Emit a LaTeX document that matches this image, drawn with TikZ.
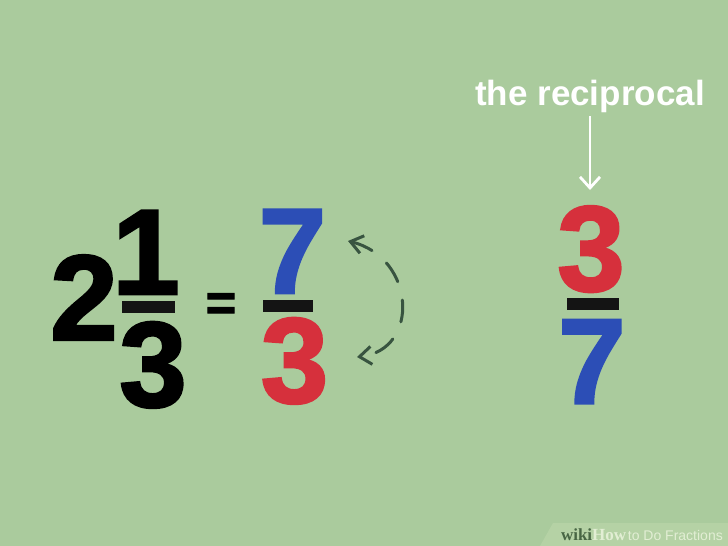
\documentclass[tikz,border=0pt]{standalone}
\usepackage{fontspec}
\setmainfont{Liberation Sans}
\newfontfamily\wikiserif{Liberation Serif}
\newfontfamily\heavydigits{Liberation Sans Bold}[FakeBold=2.2]
\usepackage{xcolor}
\usepackage{tikz}
\usetikzlibrary{arrows.meta,positioning}

\definecolor{bgGreen}{RGB}{170,203,157}
\definecolor{bandGreen}{RGB}{181,210,165}
\definecolor{numBlue}{RGB}{44,78,182}
\definecolor{numRed}{RGB}{214,48,60}
\definecolor{arcGreen}{RGB}{56,84,64}
\definecolor{wikiDark}{RGB}{72,102,68}
\definecolor{howLight}{RGB}{226,238,212}

\begin{document}
\begin{tikzpicture}[x=1pt, y=-1pt,
  digit/.style={inner sep=0pt, outer sep=0pt, font=\heavydigits\fontsize{121}{121}\selectfont},
  fracbar/.style={rectangle, fill=black!92, inner sep=0pt, outer sep=0pt, minimum height=12pt},
  label/.style={text=white, font=\fontsize{35}{35}\selectfont\bfseries, inner sep=4pt},
  whitearrow/.style={draw=white, line width=2.8pt, -{Straight Barb[length=11pt,width=20pt]}},
  dasharc/.style={draw=arcGreen, line width=3pt, line cap=round, dash pattern=on 22pt off 19pt,
    {Straight Barb[length=12pt,width=18pt]}-{Straight Barb[length=12pt,width=18pt]}}]

  \useasboundingbox (0,0) rectangle (728,546);
  \fill[bgGreen] (0,0) rectangle (728,546);

  % mixed number
  \node[digit] (whole) at (84,297.5) {2};
  \node[fracbar, minimum width=53pt] (barA) at (148.5,306.5) {};
  \node[digit, above=6.5pt of barA, xshift=-2.5pt] (numA) {1};
  \node[digit, below=9.5pt of barA, xshift=4.5pt] (denA) {3};
  \node[inner sep=0pt, font=\heavydigits\fontsize{52}{52}\selectfont] (equals) at (221,307) {=};

  % improper fraction
  \node[fracbar, minimum width=50pt] (barB) at (288,306) {};
  \node[digit, above=7pt of barB, xshift=4.5pt, text=numBlue] (numB) {7};
  \node[digit, below=6pt of barB, xshift=6.5pt, text=numRed] (denB) {3};

  \coordinate (arcTop) at (348,241);
  \coordinate (arcBot) at (357,357);
  \path[dasharc] (arcTop) .. controls (416,258) and (420,350) .. (arcBot);

  % reciprocal
  \node[label, anchor=base] (recipLabel) at (590,105) {the reciprocal};
  \coordinate (recipTip) at (590,190);
  \path[whitearrow] (recipLabel) -- (recipTip);

  \node[fracbar, minimum width=52pt] (barC) at (593,304) {};
  \node[digit, above=6pt of barC, xshift=-2pt, text=numRed] (numC) {3};
  \node[digit, below=10pt of barC, xshift=-1pt, text=numBlue] (denC) {7};

  % footer
  \fill[bandGreen] (553,523) -- (728,523) -- (728,546) -- (540,546) -- cycle;
  \node[anchor=base east, inner sep=0pt] (footer) at (723,540)
    {{\wikiserif\fontsize{17}{17}\selectfont\bfseries\color{wikiDark}wiki}{\wikiserif\fontsize{17}{17}\selectfont\bfseries\color{howLight}How}\,{\fontsize{14}{14}\selectfont\color{howLight}to Do Fractions}};
\end{tikzpicture}
\end{document}
